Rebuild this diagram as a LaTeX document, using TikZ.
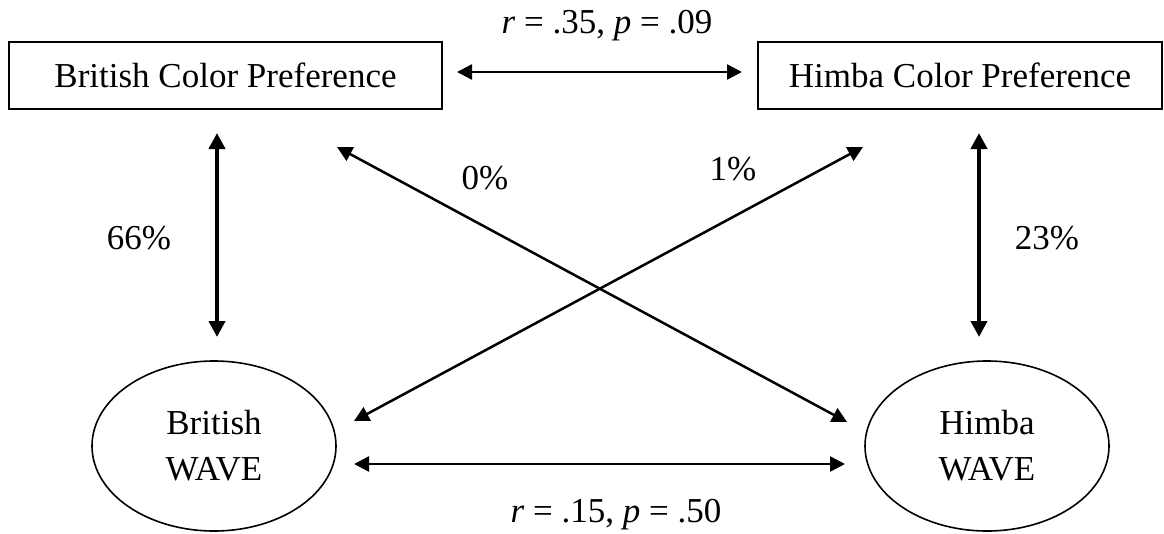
\documentclass[tikz,border=0pt]{standalone}
\usepackage{fontspec}
\setmainfont{Liberation Serif}
\usetikzlibrary{arrows.meta,shapes.geometric}
\begin{document}
\begin{tikzpicture}[x=1pt,y=-1pt,
  font=\fontsize{35}{46}\selectfont,
  box/.style={draw, line width=1.6pt, minimum height=67pt, inner sep=0pt},
  oval/.style={draw, ellipse, line width=1.6pt, minimum width=244pt, minimum height=170pt, inner sep=0pt, align=center},
  thinarrow/.style={line width=2.5pt, {Triangle[length=15pt,width=15pt]}-{Triangle[length=15pt,width=15pt]}},
  thickarrow/.style={line width=4.5pt, {Triangle[length=16pt,width=16pt]}-{Triangle[length=16pt,width=16pt]}},
  lbl/.style={inner sep=0pt}]
\useasboundingbox (0,0) rectangle (1164,533);
% nodes
\node[box, minimum width=433pt] (bcp) at (225.5,75.5) {British Color Preference};
\node[box, minimum width=404pt] (hcp) at (960,75.5) {Himba Color Preference};
\node[oval] (bw) at (214,446) {British\\WAVE};
\node[oval] (hw) at (987,446) {Himba\\WAVE};
% connector ends
\coordinate (t1) at (457,72);
\coordinate (t2) at (742,72);
\coordinate (l1) at (217,133);
\coordinate (l2) at (217,337);
\coordinate (r1) at (979,133);
\coordinate (r2) at (979,337);
\coordinate (da1) at (337,147);
\coordinate (da2) at (847,422);
\coordinate (db1) at (354,421);
\coordinate (db2) at (863,147);
\coordinate (b1) at (354,464);
\coordinate (b2) at (845,464);
% connectors
\draw[thinarrow] (t1) -- (t2);
\draw[thickarrow] (l1) -- (l2);
\draw[thickarrow] (r1) -- (r2);
\draw[thinarrow] (da1) -- (da2);
\draw[thinarrow] (db1) -- (db2);
\draw[thinarrow] (b1) -- (b2);
% labels
\node[lbl, anchor=base] (ltop) at (607,33) {\textit{r} = .35, \textit{p} = .09};
\node[lbl, anchor=base] (lbot) at (616,522) {\textit{r} = .15, \textit{p} = .50};
\node[lbl] (l66) at (139,238) {66\%};
\node[lbl] (l23) at (1047,238) {23\%};
\node[lbl] (l0) at (485,178) {0\%};
\node[lbl] (l1p) at (733,169) {1\%};
\end{tikzpicture}
\end{document}
